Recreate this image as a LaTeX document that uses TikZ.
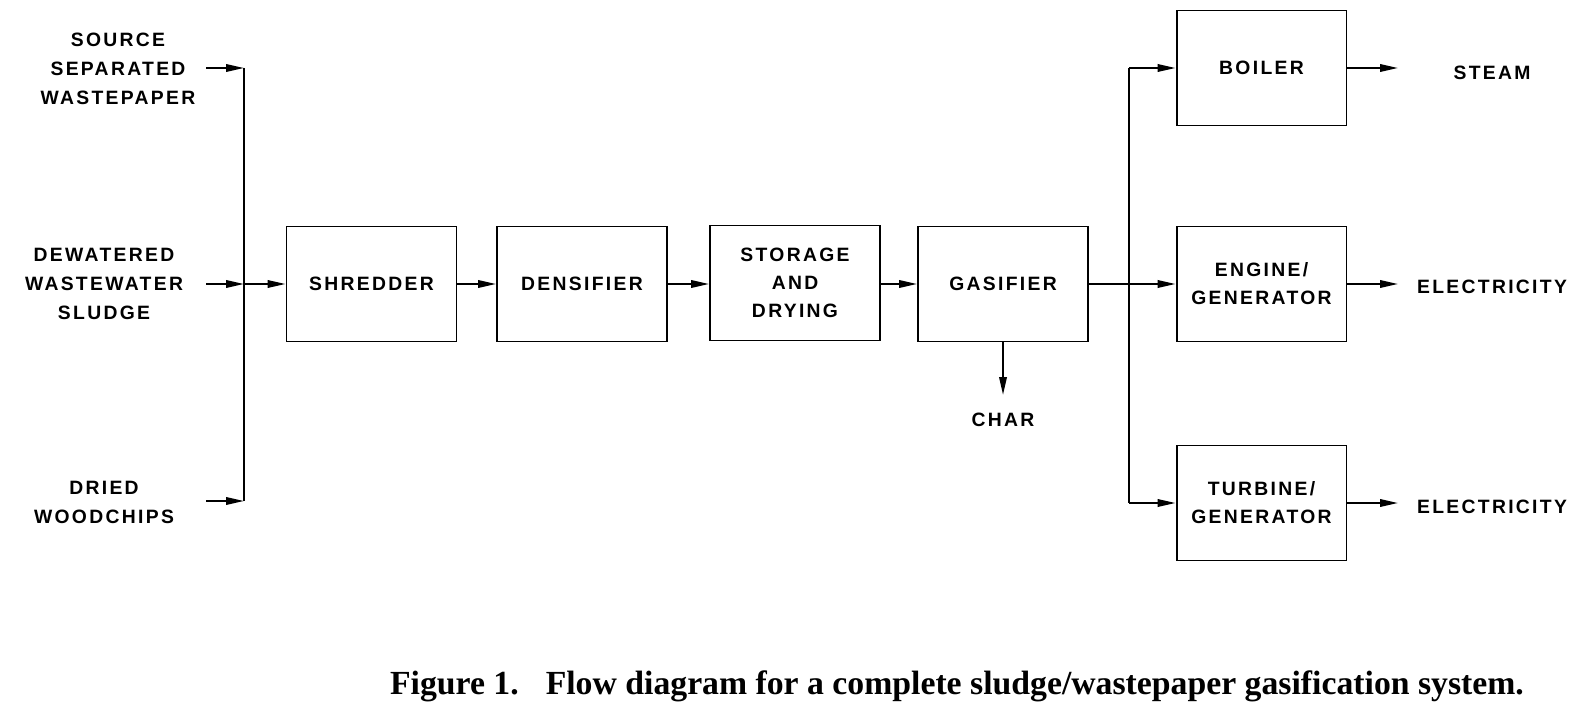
\documentclass[tikz,border=0pt]{standalone}
\usepackage{fontspec}
\newfontfamily\lblfont[LetterSpace=12]{Liberation Sans Bold}
\newfontfamily\capfont{Liberation Serif}
\usetikzlibrary{arrows.meta}
\tikzset{
    flowbox/.style={
        rectangle,
        draw=black,
        line width=1.1pt,
        minimum width=3.4cm,
        minimum height=2.3cm,
        align=center,
        font=\lblfont\fontsize{11}{16}\selectfont
    },
    lbl/.style={
        align=center,
        inner sep=0pt,
        font=\lblfont\fontsize{11}{16.5}\selectfont
    },
    arrow/.style={
        -{Triangle[length=3.6mm,width=1.5mm]},
        line width=1.1pt
    },
    bus/.style={
        line width=1.1pt
    }
}
\begin{document}
\begin{tikzpicture}[x=0.02cm,y=-0.02cm]
                \useasboundingbox (0,0) rectangle (1577,709);
                % inputs
                \node[lbl] (paper)  at (118,69)  {SOURCE\\SEPARATED\\WASTEPAPER};
                \node[lbl] (sludge) at (104,284) {DEWATERED\\WASTEWATER\\SLUDGE};
                \node[lbl] (chips)  at (104,502) {DRIED\\WOODCHIPS};
                % process line
                \node[flowbox] (shredder)  at (371.5,284) {SHREDDER};
                \node[flowbox] (densifier) at (582,284)   {DENSIFIER};
                \node[flowbox] (storage)   at (795,283)   {STORAGE\\AND\\DRYING};
                \node[flowbox] (gasifier)  at (1003,284)  {GASIFIER};
                \node[lbl]     (char)      at (1003,420)  {CHAR};
                % energy use
                \node[flowbox] (boiler)  at (1261.5,68)  {BOILER};
                \node[flowbox] (engine)  at (1261.5,284) {ENGINE/\\GENERATOR};
                \node[flowbox] (turbine) at (1261.5,503) {TURBINE/\\GENERATOR};
                \node[lbl] (steam) at (1492,73)  {STEAM};
                \node[lbl] (elecA) at (1492,287) {ELECTRICITY};
                \node[lbl] (elecB) at (1492,507) {ELECTRICITY};
                % caption
                \node[font=\capfont\bfseries\fontsize{19.2}{21}\selectfont] (caption) at (957,686)
                    {Figure 1.\hspace{0.8em}Flow diagram for a complete sludge/wastepaper gasification system.};

                \coordinate (inA)  at (206,68);
                \coordinate (inB)  at (206,284);
                \coordinate (inC)  at (206,501);
                \coordinate (busA) at (244,68);
                \coordinate (busB) at (244,284);
                \coordinate (busC) at (244,501);
                \coordinate (busT) at (1129,68);
                \coordinate (busM) at (1129,284);
                \coordinate (busD) at (1129,503);
                \coordinate (charend) at (1003,395);
                \coordinate (outA) at (1398,68);
                \coordinate (outB) at (1398,284);
                \coordinate (outC) at (1398,503);

                \draw[arrow] (inA) -- (busA);
                \draw[arrow] (inB) -- (busB);
                \draw[arrow] (inC) -- (busC);
                \draw[bus]   (busA) -- (busC);
                \draw[arrow] (busB) -- (shredder);
                \draw[arrow] (shredder)  -- (densifier);
                \draw[arrow] (densifier) -- (storage.west |- densifier);
                \draw[arrow] (storage.east |- gasifier) -- (gasifier);
                \draw[arrow] (gasifier) -- (charend);
                \draw[arrow] (gasifier) -- (engine);
                \draw[bus]   (busT) -- (busD);
                \draw[arrow] (busT) -- (boiler);
                \draw[arrow] (busD) -- (turbine);
                \draw[arrow] (boiler)  -- (outA);
                \draw[arrow] (engine)  -- (outB);
                \draw[arrow] (turbine) -- (outC);
            \end{tikzpicture}
\end{document}
